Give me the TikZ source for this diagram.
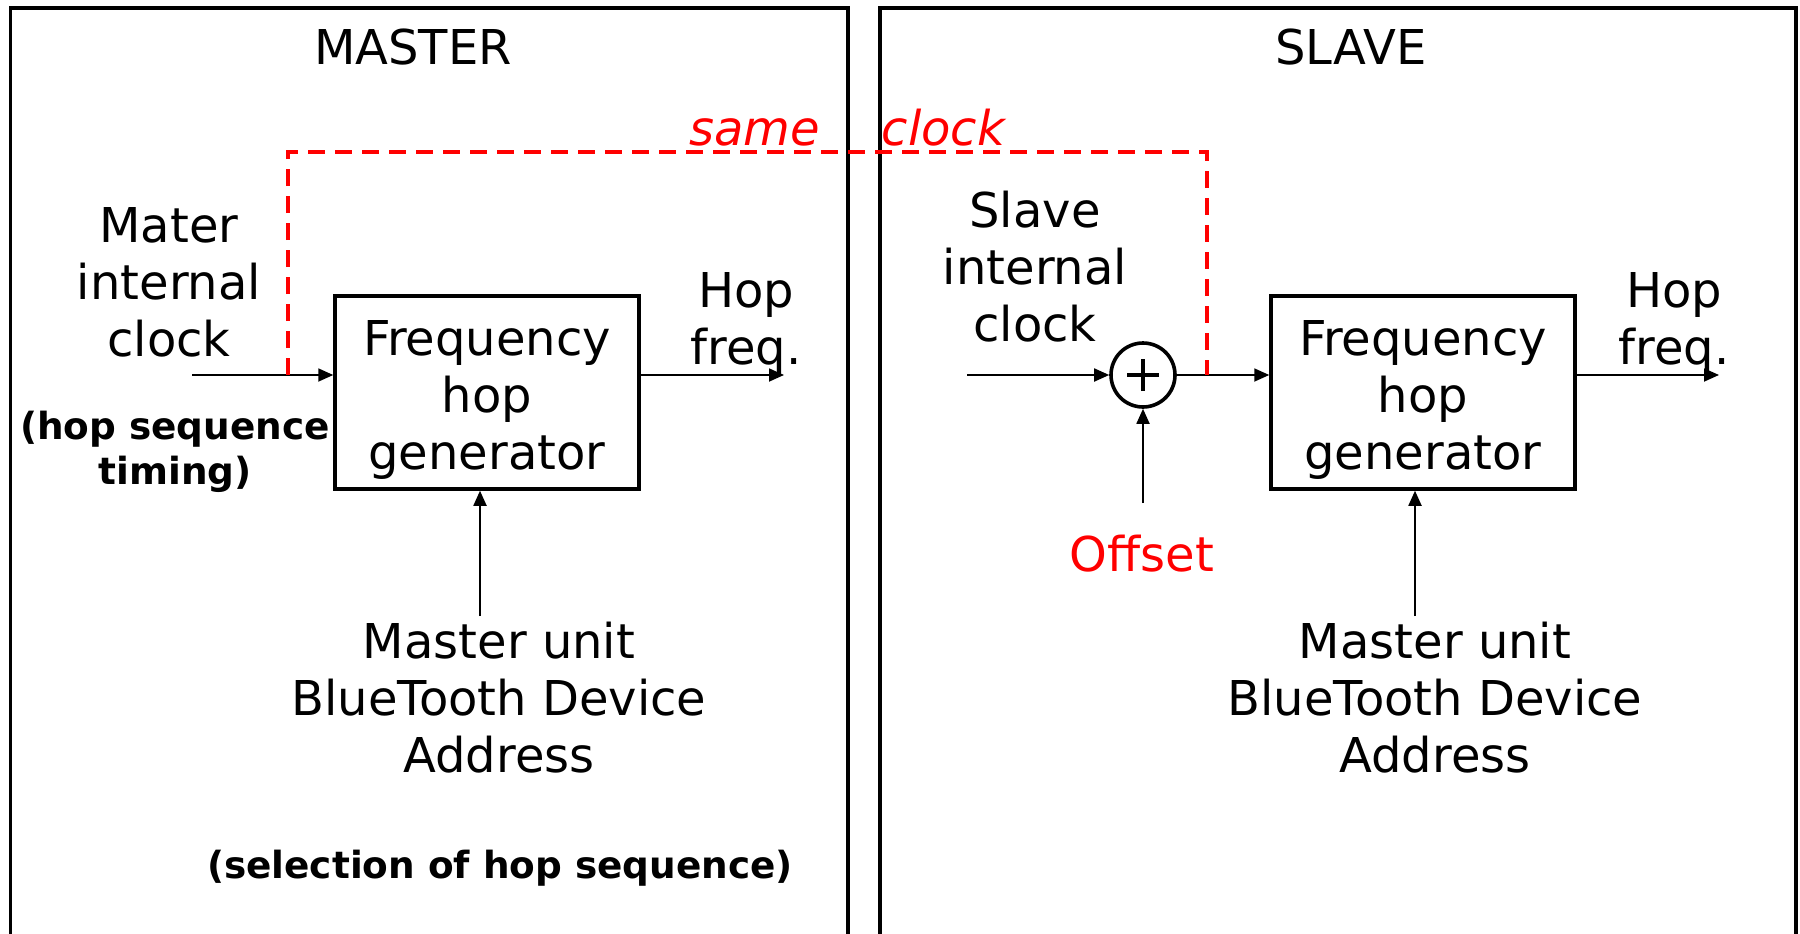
\documentclass[tikz,border=0pt]{standalone}
\usepackage{fontspec}
\setmainfont{DejaVu Sans}
\usetikzlibrary{arrows.meta}
\newcommand\mainsize{\fontsize{48}{57}\selectfont}
\newcommand\notesize{\fontsize{37.4}{45}\selectfont\bfseries}
\begin{document}
\begin{tikzpicture}[x=1pt,y=-1pt,
  frameline/.style={line width=3.2pt},
  genbox/.style={draw, line width=3.5pt, minimum width=304pt, minimum height=193pt,
    align=center, font=\mainsize, inner sep=0pt, text height=163pt},
  lbl/.style={align=center, font=\mainsize, inner sep=0pt, anchor=base},
  note/.style={align=center, font=\notesize, inner sep=0pt, anchor=base},
  sig/.style={line width=1.8pt, -{Triangle[length=15pt,width=13pt]}},
  clk/.style={draw=red, line width=3.4pt, dash pattern=on 17pt off 10pt},
  sumnode/.style={circle, draw, line width=3.6pt, minimum size=64pt, inner sep=0pt}]
\useasboundingbox (0,0) rectangle (1800,934);

% the two unit frames, open towards the bottom edge
\draw[frameline] (10.5,945) -- (10.5,8) -- (848,8) -- (848,945);
\draw[frameline] (880,945) -- (880,8) -- (1796,8) -- (1796,945);

% titles (labels are placed by the baseline of their last line)
\node[lbl] (mtitle) at (413,65) {MASTER};
\node[lbl] (stitle) at (1351,65) {SLAVE};

% ---------------- master side ----------------
\node[genbox] (mgen) at (487,392.5) {Frequency\\hop\\generator};
\node[lbl] (mclock) at (169,356) {Mater\\internal\\clock};
\node[note] (mtiming) at (175,484) {(hop sequence\\timing)};
\node[lbl] (mhop) at (746,364) {Hop\\freq.};
\node[lbl] (maddr) at (499,772) {Master unit\\BlueTooth Device\\Address};
\node[note] (msel) at (500,878) {(selection of hop sequence)};

\coordinate (min) at (192,375);
\coordinate (mout) at (784,375);
\coordinate (mbd) at (480,616);
\coordinate (mtap) at (288,375);

\draw[sig] (min) -- (mgen.west |- min);
\draw[sig] (mgen.east |- mout) -- (mout);
\draw[sig] (mbd) -- (mbd |- mgen.south);

% ---------------- slave side ----------------
\node[genbox] (sgen) at (1423,392.5) {Frequency\\hop\\generator};
\node[lbl] (sclock) at (1035,341) {Slave\\internal\\clock};
\node[lbl] (shop) at (1674,364) {Hop\\freq.};
\node[lbl] (saddr) at (1435,772) {Master unit\\BlueTooth Device\\Address};
\node[lbl, text=red] (offset) at (1142,571) {Offset};
\node[sumnode] (sum) at (1143,375) {};
\draw[line width=3.3pt] ([xshift=-16pt]sum.center) -- ([xshift=16pt]sum.center);
\draw[line width=3.3pt] ([yshift=-16pt]sum.center) -- ([yshift=16pt]sum.center);

\coordinate (sin) at (967,375);
\coordinate (sout) at (1719,375);
\coordinate (sbd) at (1415,616);
\coordinate (soff) at (1143,503);
\coordinate (stap) at (1207,375);

\draw[sig] (sin) -- (sum.west);
\draw[sig] (sum.east) -- (sgen.west |- sum.east);
\draw[sig] (soff) -- (sum.south);
\draw[sig] (sgen.east |- sout) -- (sout);
\draw[sig] (sbd) -- (sbd |- sgen.south);

% shared clock link
\coordinate (ctop) at (0,152);
\draw[clk] (mtap) -- (mtap |- ctop) -- (stap |- ctop) -- (stap);
\node[lbl, text=red, font=\mainsize\itshape] (same) at (847,145) {same\hspace{62pt}clock};
\end{tikzpicture}
\end{document}
